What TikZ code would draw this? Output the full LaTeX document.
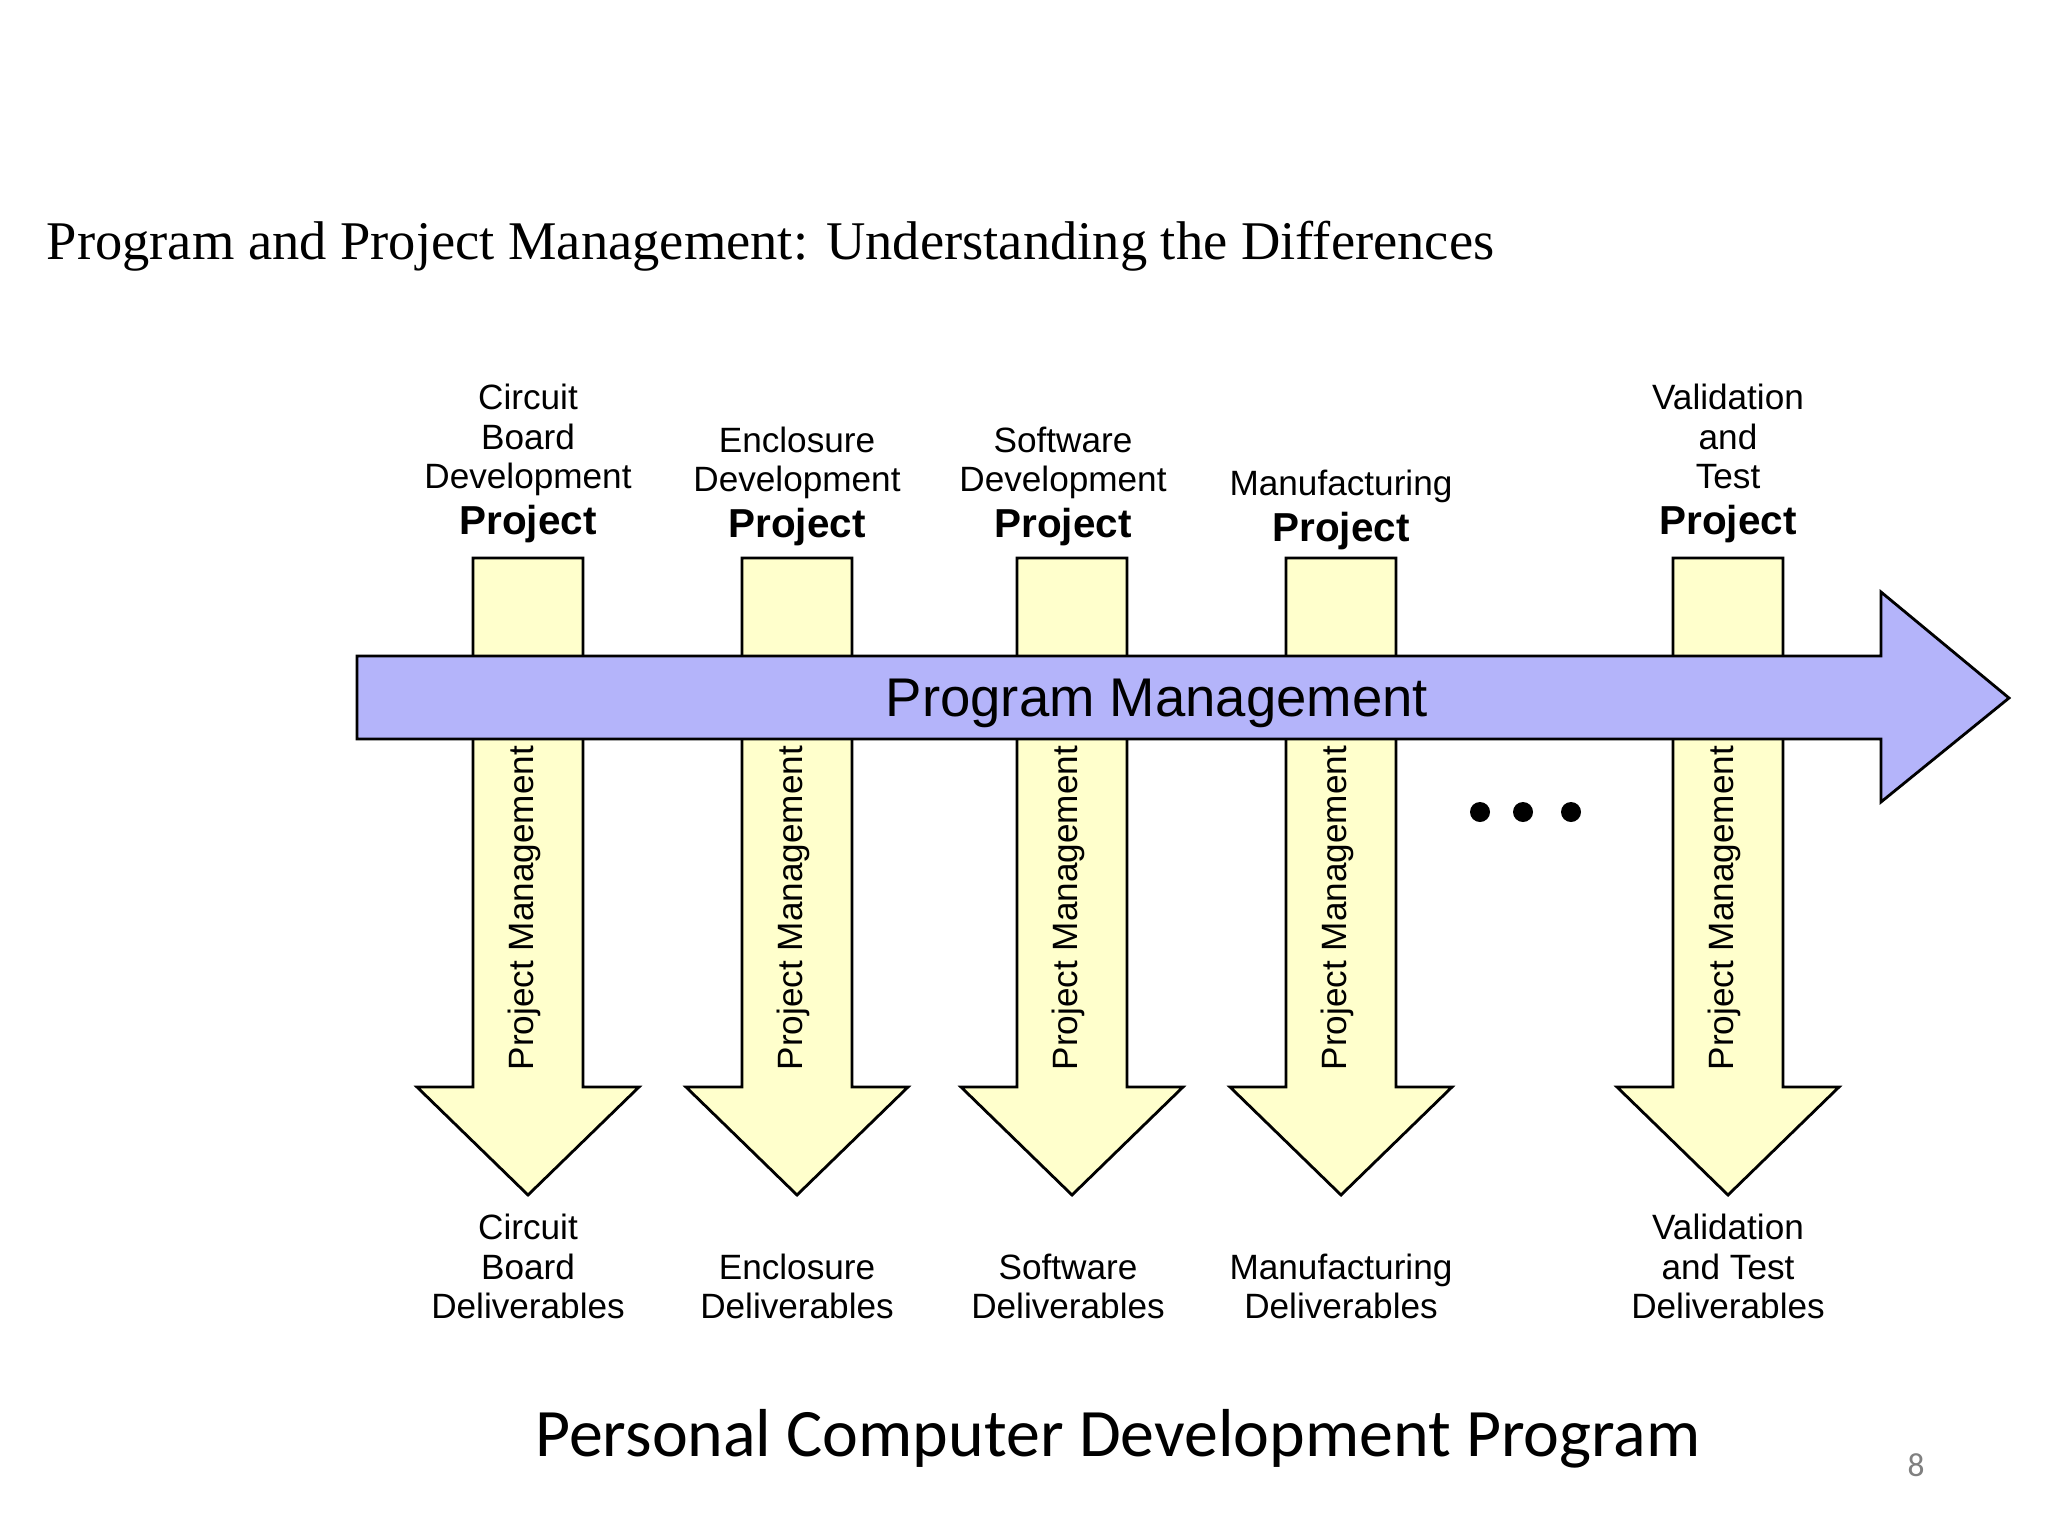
\documentclass[tikz,border=0pt]{standalone}
\usepackage{fontspec}
\setmainfont{Liberation Serif}
\setsansfont{Liberation Sans}
\newfontfamily\slidefont{Carlito}
\usetikzlibrary{positioning}

\definecolor{projyellow}{RGB}{255,255,204}
\definecolor{proglavender}{RGB}{180,180,250}

\tikzset{%
  >=latex,
  projarrow/.style={fill=projyellow, draw=black, line width=0.8pt},
  progarrow/.style={fill=proglavender, draw=black, line width=0.8pt},
  lbl/.style={font=\sffamily\fontsize{10}{11.3}\selectfont, align=center, inner sep=0pt}
}

\newcommand{\projword}{{\fontsize{11.5}{11.3}\selectfont\bfseries Project}}

\begin{document}
\begin{tikzpicture}[x=0.01cm,y=-0.01cm]
     \useasboundingbox (0,0) rectangle (2048,1536);

     \node[anchor=west, inner sep=0pt, font=\fontsize{15.5}{18}\selectfont] (title) at (46,246)
       {Program and Project Management: Understanding the Differences};

     % one yellow arrow per project
     \foreach \x/\n in {528/cb,797/enc,1072/sw,1341/mfg,1728/vt}
     {
       \draw[projarrow] (\x-55,558) -- (\x+55,558) -- (\x+55,1087) -- (\x+111,1087)
         -- (\x,1195) -- (\x-111,1087) -- (\x-55,1087) -- cycle;
       \node[lbl, rotate=90] (pm-\n) at (\x-4,908) {Project Management};
     }

     % the program runs across them
     \draw[progarrow] (357,656) -- (1881,656) -- (1881,592) -- (2009,698)
       -- (1881,802) -- (1881,739) -- (357,739) -- cycle;
     \node[lbl, font=\sffamily\fontsize{15.5}{18}\selectfont] (prog) at (1157,703) {Program Management};

     \foreach \x/\n in {1480/a,1523/b,1571/c}
       \fill (\x,812) circle[radius=1mm] coordinate (dot-\n);

     % project names above
     \node[lbl, anchor=south] (top-cb) at (528,544) {Circuit\\Board\\Development\\[1.8pt]\projword};
     \node[lbl, anchor=south] (top-enc) at (797,547) {Enclosure\\Development\\[1.8pt]\projword};
     \node[lbl, anchor=south] (top-sw) at (1063,547) {Software\\Development\\[1.8pt]\projword};
     \node[lbl, anchor=south] (top-mfg) at (1341,551) {Manufacturing\\[1.8pt]\projword};
     \node[lbl, anchor=south] (top-vt) at (1728,544) {Validation\\and\\Test\\[1.8pt]\projword};

     % deliverables below
     \node[lbl, anchor=south] (dlv-cb) at (528,1320) {Circuit\\Board\\Deliverables};
     \node[lbl, anchor=south] (dlv-enc) at (797,1320) {Enclosure\\Deliverables};
     \node[lbl, anchor=south] (dlv-sw) at (1068,1320) {Software\\Deliverables};
     \node[lbl, anchor=south] (dlv-mfg) at (1341,1320) {Manufacturing\\Deliverables};
     \node[lbl, anchor=south] (dlv-vt) at (1728,1320) {Validation\\and Test\\Deliverables};

     \node[inner sep=0pt, font=\slidefont\fontsize{19.3}{22}\selectfont] (caption) at (1118,1439)
       {Personal Computer Development Program};
     \node[inner sep=0pt, text=gray, font=\slidefont\fontsize{9.5}{11}\selectfont] (pagenum) at (1916,1465) {8};

\end{tikzpicture}
\end{document}
